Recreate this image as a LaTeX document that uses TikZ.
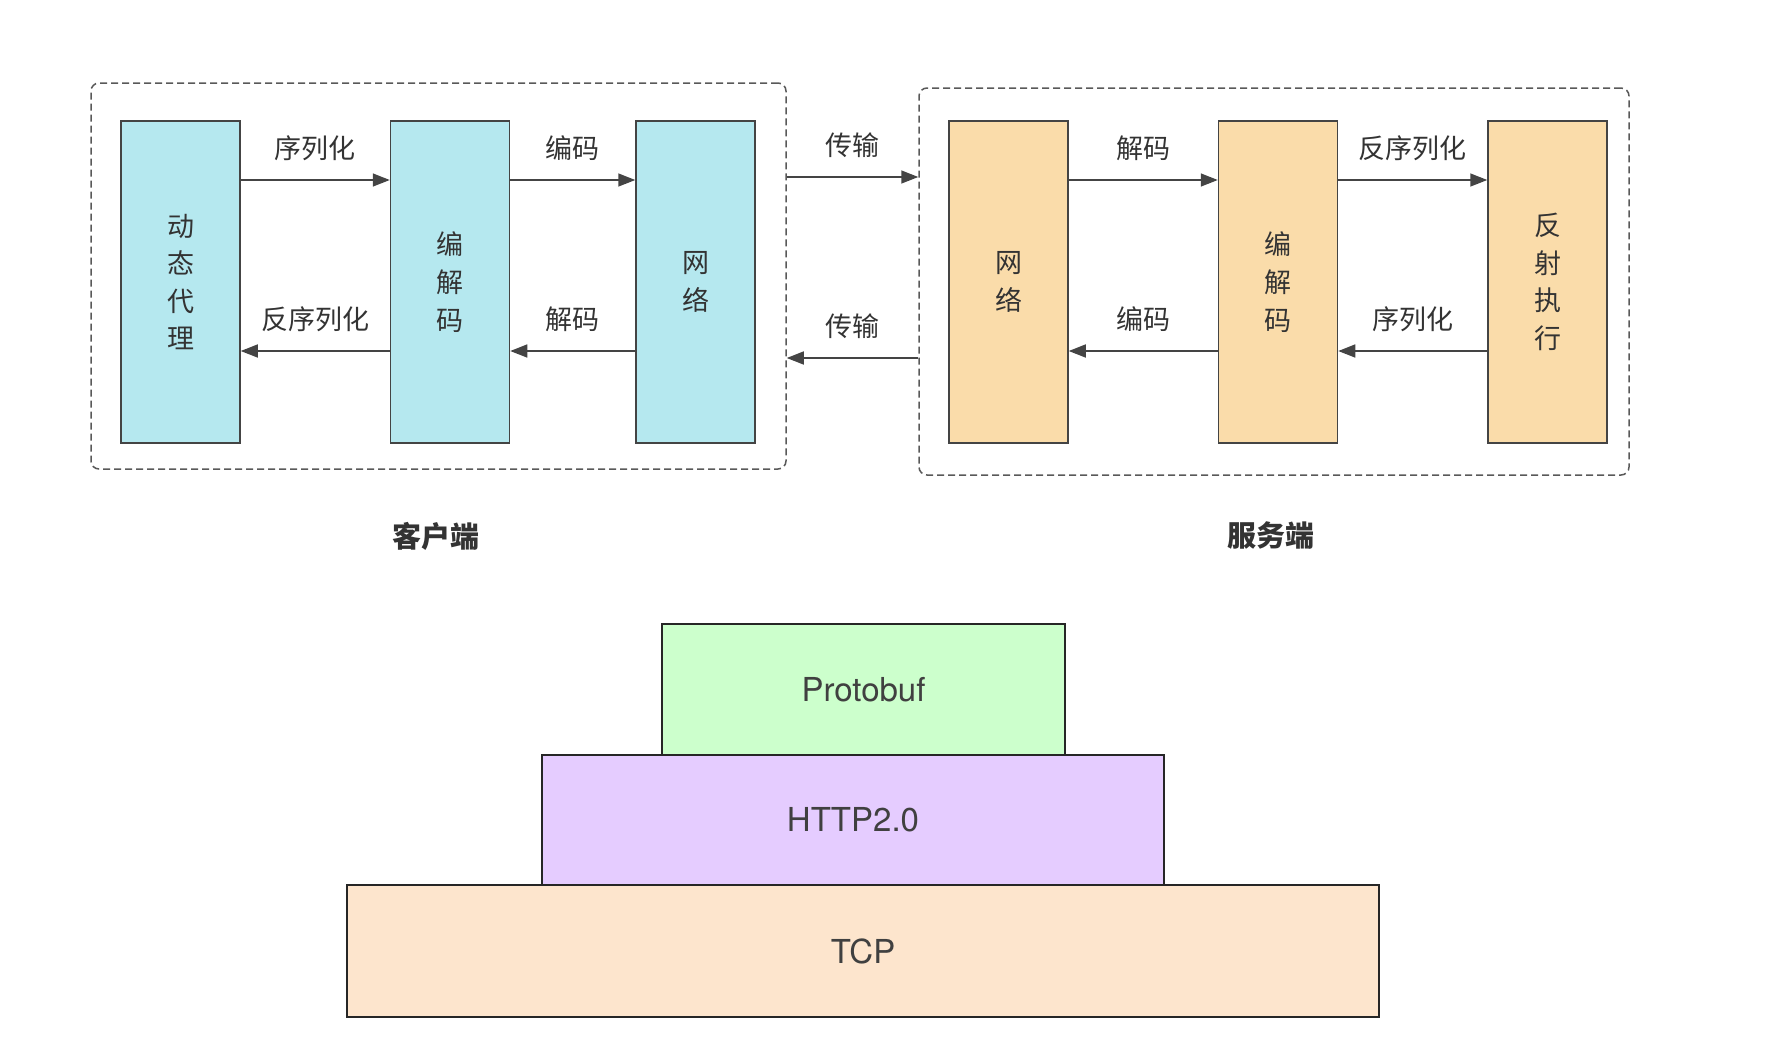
\documentclass[tikz,border=0pt]{standalone}
\usepackage{fontspec}
\setmainfont{TeX Gyre Heros}
\newfontfamily\cjk{Noto Sans CJK SC}
\usetikzlibrary{arrows.meta,positioning}
\definecolor{cyanbox}{HTML}{B5E8EF}
\definecolor{orangebox}{HTML}{FADCAA}
\definecolor{protogreen}{HTML}{CCFFCC}
\definecolor{httppurple}{HTML}{E5CCFF}
\definecolor{tcppeach}{HTML}{FDE5CD}
\definecolor{linegray}{HTML}{444444}
\begin{document}
\begin{tikzpicture}[x=1pt,y=-1pt,
    stage/.style={draw=linegray, line width=1.5pt, minimum width=119pt, minimum height=322pt,
        inner sep=0pt, align=center, font=\cjk\fontsize{27}{37.6}\selectfont, text=black!80},
    client/.style={stage, fill=cyanbox},
    server/.style={stage, fill=orangebox},
    side/.style={draw=black!65, dashed, dash pattern=on 7pt off 4pt, line width=1.5pt,
        rounded corners=8pt, inner sep=0pt},
    arr/.style={draw=linegray, line width=1.6pt, -{Triangle[length=17pt,width=13pt]}},
    lbl/.style={midway, yshift=32pt, font=\cjk\fontsize{27}{30}\selectfont, text=black!80},
    layer/.style={draw=black!85, line width=2.5pt, inner sep=0pt,
        font=\fontsize{33}{36}\selectfont, text=black!75}]
    \useasboundingbox (0,0) rectangle (1786,1039);

    % client side
    \node[side, minimum width=695pt, minimum height=386pt] (cside) at (438.5,276) {};
    \node[client] (proxy) at (180.5,282) {动\\态\\代\\理};
    \node[client] (ccodec) at (450,282) {编\\解\\码};
    \node[client] (cnet) at (695.5,282) {网\\络};
    \node[font=\cjk\bfseries\fontsize{29}{32}\selectfont, text=black!80] (clbl) at (436,536) {客户端};

    % server side
    \node[side, minimum width=710pt, minimum height=387pt] (sside) at (1274,281.5) {};
    \node[server] (snet) at (1008.5,282) {网\\络};
    \node[server] (scodec) at (1278,282) {编\\解\\码};
    \node[server] (reflect) at (1547.5,282) {反\\射\\执\\行};
    \node[font=\cjk\bfseries\fontsize{29}{32}\selectfont, text=black!80] (slbl) at (1271,536) {服务端};

    % request path
    \draw[arr] ([yshift=102pt]proxy.east) -- ([yshift=102pt]ccodec.west) node[lbl] {序列化};
    \draw[arr] ([yshift=102pt]ccodec.east) -- ([yshift=102pt]cnet.west) node[lbl] {编码};
    \draw[arr] ([yshift=99pt]cside.east) coordinate (t1) -- (sside.west |- t1) node[lbl] {传输};
    \draw[arr] ([yshift=102pt]snet.east) -- ([yshift=102pt]scodec.west) node[lbl] {解码};
    \draw[arr] ([yshift=102pt]scodec.east) -- ([yshift=102pt]reflect.west) node[lbl] {反序列化};

    % response path
    \draw[arr] ([yshift=-69pt]reflect.west) -- ([yshift=-69pt]scodec.east) node[lbl] {序列化};
    \draw[arr] ([yshift=-69pt]scodec.west) -- ([yshift=-69pt]snet.east) node[lbl] {编码};
    \draw[arr] ([yshift=-76.5pt]sside.west) coordinate (t2) -- (cside.east |- t2) node[lbl] {传输};
    \draw[arr] ([yshift=-69pt]cnet.west) -- ([yshift=-69pt]ccodec.east) node[lbl] {解码};
    \draw[arr] ([yshift=-69pt]ccodec.west) -- ([yshift=-69pt]proxy.east) node[lbl] {反序列化};

    % protocol stack
    \node[layer, fill=tcppeach, minimum width=1032pt, minimum height=132pt] (tcp) at (863,951) {TCP};
    \node[layer, fill=httppurple, minimum width=622pt, minimum height=130pt] (http) at (853,820) {HTTP2.0};
    \node[layer, fill=protogreen, minimum width=403pt, minimum height=131pt] (proto) at (863.5,689.5) {Protobuf};
\end{tikzpicture}
\end{document}
